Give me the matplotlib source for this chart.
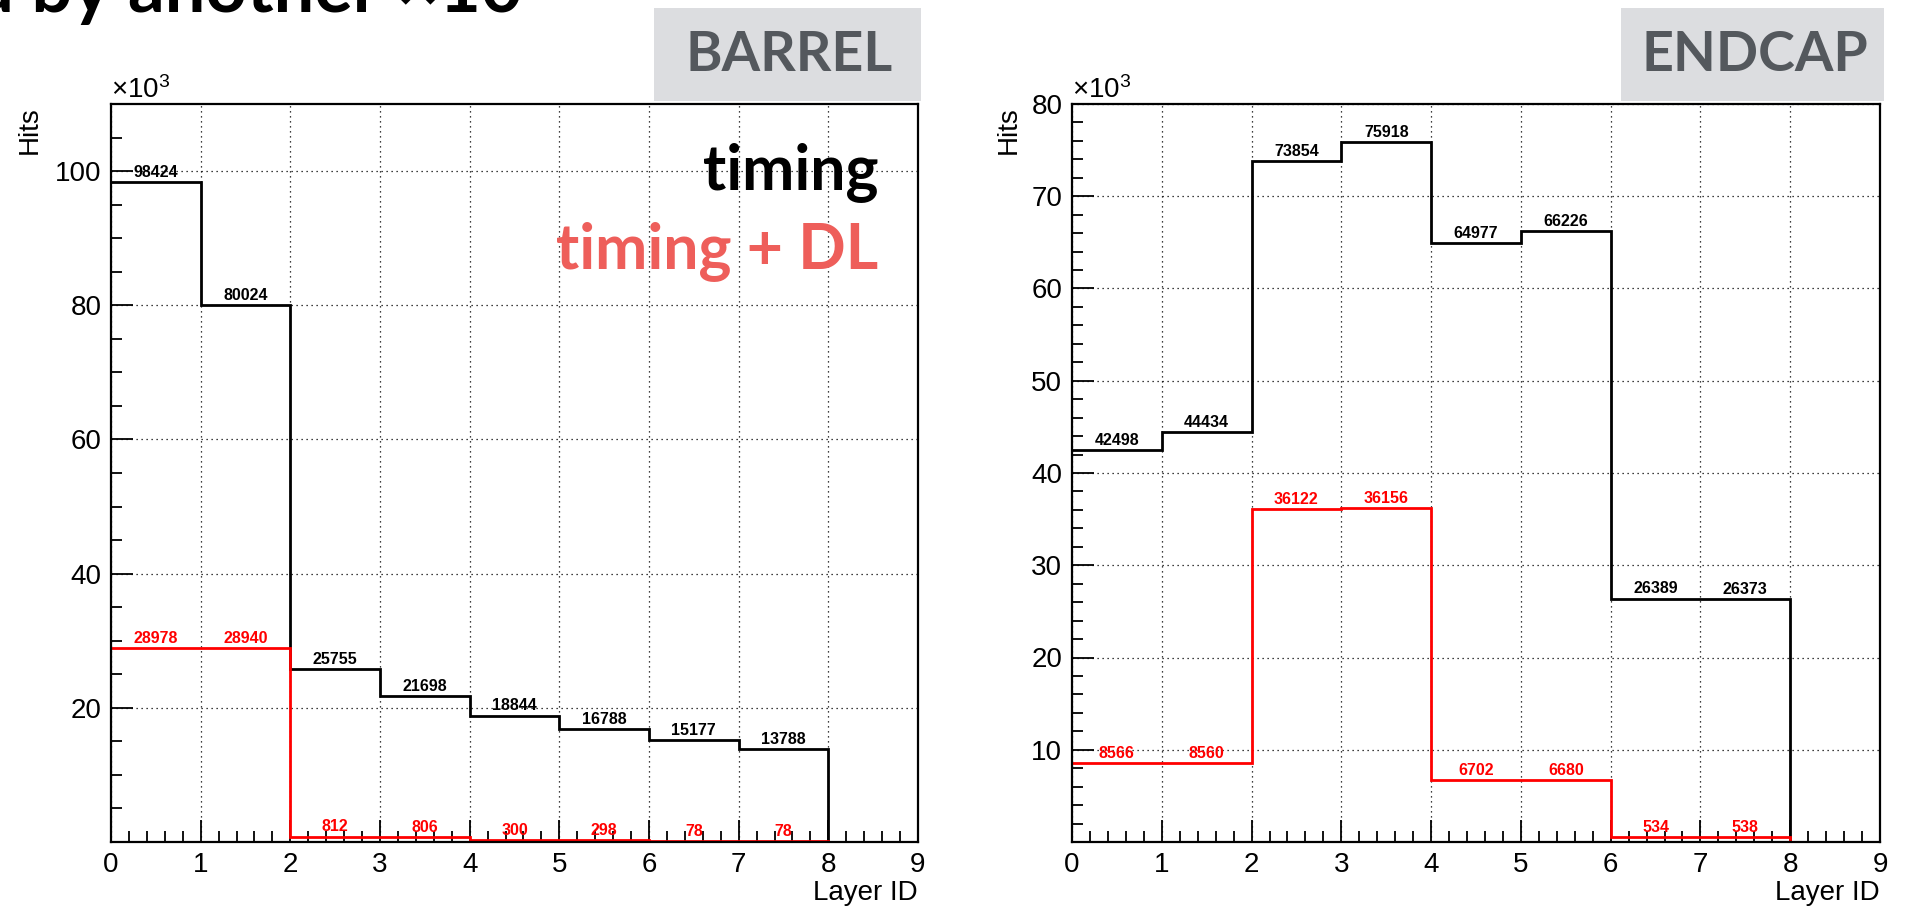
import numpy as np
import matplotlib
matplotlib.use("Agg")
import matplotlib.pyplot as plt
from matplotlib.ticker import MultipleLocator, FixedLocator, FuncFormatter
from matplotlib.patches import Rectangle

plt.rcParams['font.family'] = ['Liberation Sans', 'DejaVu Sans']
plt.rcParams['mathtext.fontset'] = 'custom'
plt.rcParams['mathtext.rm'] = 'Liberation Sans'
plt.rcParams['mathtext.it'] = 'Liberation Sans:italic'
plt.rcParams['mathtext.bf'] = 'Liberation Sans:bold'

# --- hits per layer (bins 0..8, last bin empty) ---
layer_edges = np.arange(0, 10)
barrel_timing = [98424, 80024, 25755, 21698, 18844, 16788, 15177, 13788, 0]
barrel_timing_dl = [28978, 28940, 812, 806, 300, 298, 78, 78, 0]
endcap_timing = [42498, 44434, 73854, 75918, 64977, 66226, 26389, 26373, 0]
endcap_timing_dl = [8566, 8560, 36122, 36156, 6702, 6680, 534, 538, 0]

barrel_yticks = [20000, 40000, 60000, 80000, 100000]
endcap_yticks = [10000, 20000, 30000, 40000, 50000, 60000, 70000, 80000]

W, H = 1907, 906
RED = '#ff0000'
SLIDE_RED = '#ee5e5a'
SLIDE_GREY = '#54585d'
BOX_GREY = '#dcdde0'

fig = plt.figure(figsize=(W / 100, H / 100), dpi=100)


def rect(x0, y0, x1, y1):
    """pixel box (top-left origin) -> figure fraction [l, b, w, h]"""
    return [x0 / W, 1 - y1 / H, (x1 - x0) / W, (y1 - y0) / H]


def fx(x):
    return x / W


def fy(y):
    return 1 - y / H


def draw_panel(ax, timing, timing_dl, ymax, yticks, yminor):
    ax.set_axisbelow(True)
    ax.grid(True, which='major', color='black', lw=0.9, linestyle=(0, (1, 3)))

    # no outer edges: the frame already marks x=0, and the last bin is empty
    ax.stairs(timing, layer_edges, baseline=None, color='black', lw=2.0, zorder=2.2)
    ax.stairs(timing_dl, layer_edges, baseline=None, color=RED, lw=2.0, zorder=2.3)

    centers = 0.5 * (layer_edges[:-1] + layer_edges[1:])
    for vals, col in ((timing, 'black'), (timing_dl, RED)):
        for c, v in zip(centers, vals):
            if v <= 0:
                continue
            ax.annotate(str(v), (c, v), xytext=(0, 1.5), textcoords='offset points',
                        ha='center', va='bottom', fontsize=11.5, fontweight='bold',
                        color=col, zorder=5)

    ax.set_xlim(0, 9)
    ax.set_ylim(0, ymax)
    ax.xaxis.set_major_locator(MultipleLocator(1))
    ax.xaxis.set_minor_locator(MultipleLocator(0.2))
    ax.yaxis.set_major_locator(FixedLocator(yticks))
    ax.yaxis.set_minor_locator(MultipleLocator(yminor))
    ax.yaxis.set_major_formatter(FuncFormatter(lambda v, p: f'{v / 1000:g}'))

    ax.tick_params(which='both', direction='in', top=False, right=False,
                   labelsize=20, width=1.3, color='black')
    ax.tick_params(which='major', length=16, pad=7)
    ax.tick_params(which='minor', length=8)
    for s in ax.spines.values():
        s.set_linewidth(1.6)
        s.set_color('black')
        s.set_zorder(2.5)

    ax.text(0, 1.0, r'$\times10^{3}$', transform=ax.transAxes,
            ha='left', va='bottom', fontsize=20)


ax_barrel = fig.add_axes(rect(111, 104, 918, 842))
draw_panel(ax_barrel, barrel_timing, barrel_timing_dl, 110000, barrel_yticks, 5000)

ax_endcap = fig.add_axes(rect(1072, 104, 1880, 842))
draw_panel(ax_endcap, endcap_timing, endcap_timing_dl, 80000, endcap_yticks, 2000)

# axis titles
for xh, xr in ((30, 918), (1009, 1880)):
    fig.text(fx(xh), fy(106), 'Hits', rotation=90, ha='center', va='top', fontsize=20)
    fig.text(fx(xr), fy(880), 'Layer ID', ha='right', va='top', fontsize=20)

# legend text in the barrel panel
fig.text(fx(878), fy(189), 'timing', ha='right', va='baseline', color='black',
         fontsize=45, family='Lato', fontweight='bold')
fig.text(fx(878), fy(268), 'timing + DL', ha='right', va='baseline', color=SLIDE_RED,
         fontsize=45, family='Lato', fontweight='bold')

# region tags
for (x0, x1), name in (((654, 921), 'BARREL'), ((1621, 1884), 'ENDCAP')):
    fig.add_artist(Rectangle((fx(x0), fy(101)), (x1 - x0) / W, 93 / H,
                             transform=fig.transFigure, facecolor=BOX_GREY,
                             edgecolor='none', zorder=0))
    fig.text(fx((x0 + x1) / 2 + 2), fy(55), name, ha='center', va='center',
             color=SLIDE_GREY, fontsize=40, family='Lato', fontweight='bold')

# heading line running off the top of the slide
fig.text(fx(523), fy(12), 'd by another ×10', ha='right', va='baseline',
         fontsize=52, family='Lato', fontweight='bold', color='black')

fig.savefig('out.png', dpi=100)
